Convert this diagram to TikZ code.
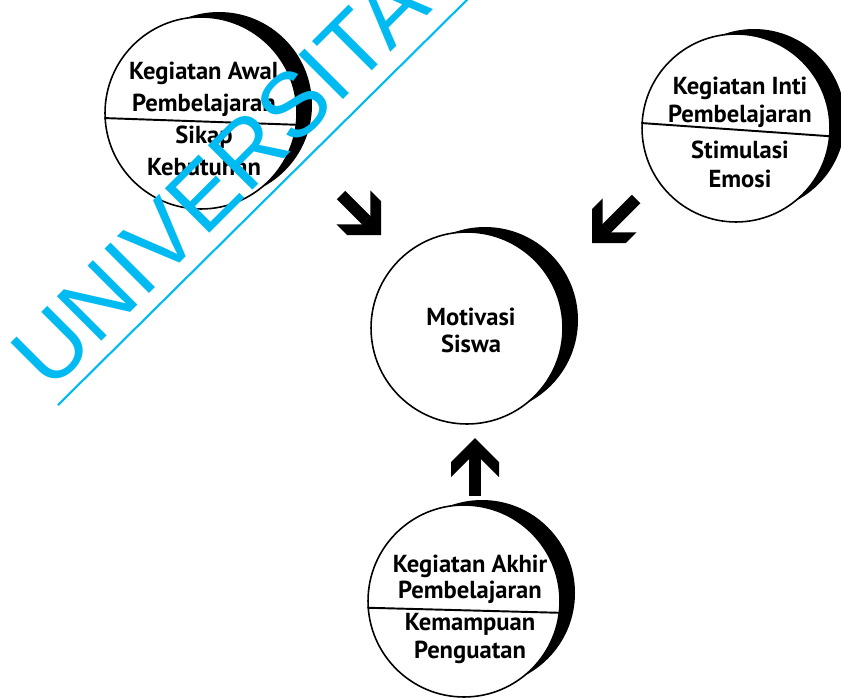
\documentclass[tikz,border=0pt]{standalone}
\usepackage{fontspec}
\setmainfont{PT Sans}
\newfontfamily\wmfont{Liberation Sans}
\usetikzlibrary{positioning,backgrounds}
\definecolor{wmcyan}{RGB}{0,186,242}

\begin{document}
\begin{tikzpicture}[
    x=0.02cm, y=-0.02cm,
    circ/.style={circle,draw=black,fill=white,line width=0.9pt,minimum size=3.84cm,inner sep=0pt},
    shade/.style={fill=black},
    txt/.style={font=\fontsize{14}{16}\selectfont\bfseries,anchor=base,inner sep=0pt},
    divider/.style={line width=1.1pt},
    shaft/.style={line width=0.24cm,shorten >=0.42cm},
    headpic/.pic={\fill (0,0) -- (-24,24) -- (-39,24) -- (-21,6) -- (-21,-6) -- (-39,-24) -- (-24,-24) -- cycle;},
    wm/.style={font=\wmfont\fontsize{52}{56}\selectfont,text=wmcyan,inner sep=0pt},
    wmline/.style={draw=wmcyan,line width=1.2pt}
]
\useasboundingbox (0,0) rectangle (841,697);

\node[circ] (awal) at (201,113) {};
\node[circ,minimum size=3.76cm] (inti) at (736,128) {};
\node[circ] (motiv) at (467,328) {};
\node[circ] (akhir) at (464,601) {};

\begin{scope}[on background layer]
\foreach \c in {awal,motiv,akhir}
  \fill[shade] ([shift={(18,-8)}]\c.center) circle (93);
\fill[shade] ([shift={(18,-8)}]inti.center) circle (91);
\end{scope}

\draw[divider] (awal.183) -- (awal.-7);
\draw[divider] (inti.177.5) -- (inti.-5.5);
\draw[divider] (akhir.184) -- (akhir.-7);

\node[txt] (awal1) at (204,79) {Kegiatan Awal};
\node[txt] (awal2) at (204,111) {Pembelajaran};
\node[txt] (awal3) at (204,143) {Sikap};
\node[txt] (awal4) at (204,175) {Kebutuhan};

\node[txt] (inti1) at (740,94) {Kegiatan Inti};
\node[txt] (inti2) at (740,122) {Pembelajaran};
\node[txt] (inti3) at (740,158) {Stimulasi};
\node[txt] (inti4) at (740,187) {Emosi};

\node[txt] (motiv1) at (471,325) {Motivasi};
\node[txt] (motiv2) at (471,352) {Siswa};

\node[txt] (akhir1) at (470,572) {Kegiatan Akhir};
\node[txt] (akhir2) at (470,598) {Pembelajaran};
\node[txt] (akhir3) at (470,630) {Kemampuan};
\node[txt] (akhir4) at (470,658) {Penguatan};

% block arrows
\coordinate (p1) at (341,195);
\coordinate (q1) at (381,235);
\coordinate (p2) at (636,199);
\coordinate (q2) at (592,243);
\coordinate (p3) at (475,496);
\coordinate (q3) at (475,438);
\draw[shaft] (p1) -- (q1) pic[pos=1,sloped,allow upside down]{headpic};
\draw[shaft] (p2) -- (q2) pic[pos=1,sloped,allow upside down]{headpic};
\draw[shaft] (p3) -- (q3) pic[pos=1,sloped,allow upside down]{headpic};

% watermark
\node[wm,rotate=45,anchor=base west] (wmark) at (50,393) {UNIVERSITAS};
\draw[wmline] (58,405) -- (480,-13);

\end{tikzpicture}
\end{document}
